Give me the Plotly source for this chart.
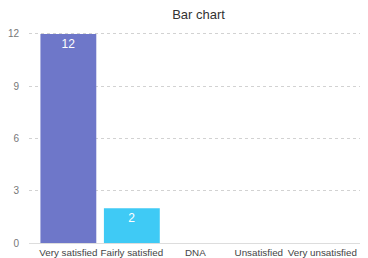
import plotly.graph_objects as go

categories = ["Very satisfied", "Fairly satisfied", "DNA", "Unsatisfied", "Very unsatisfied"]
values = [12, 2, 0, 0, 0]
bar_colors = ["#6e77c9", "#3fcaf5", "#6e77c9", "#3fcaf5", "#6e77c9"]
y_ticks = [0, 3, 6, 9, 12]

labels = [str(v) if v > 0 else "" for v in values]

fig = go.Figure(go.Bar(
    x=list(range(len(categories))),
    y=values,
    marker=dict(color=bar_colors, line=dict(width=0)),
    text=labels,
    textposition="inside",
    insidetextanchor="end",
    textfont=dict(color="white", size=12, family="Liberation Sans"),
    width=0.88,
    cliponaxis=False,
))

# page has an 8px body margin, so the figure is 8px smaller than the window
fig.update_layout(
    width=360, height=250,
    margin=dict(l=21, r=0, t=23, b=15),
    paper_bgcolor="white", plot_bgcolor="white",
    title=dict(text="Bar chart", x=0.5, xanchor="center", xref="paper",
               y=0.975, yref="container", yanchor="middle",
               font=dict(size=13, color="#333", family="Liberation Sans")),
    showlegend=False,
    font=dict(family="Liberation Sans"),
)
fig.update_xaxes(
    range=[-0.62, 4.72],
    tickmode="array", tickvals=list(range(len(categories))), ticktext=categories,
    tickfont=dict(size=9.8, color="#444"),
    ticklabeloverflow="allow",
    showgrid=False, zeroline=False,
    showline=True, linecolor="#ddd", linewidth=1,
    ticks="", ticklen=0, ticklabelstandoff=0,
    automargin=False,
)
fig.update_yaxes(
    range=[0, 12.17],
    tickmode="array", tickvals=y_ticks,
    tickfont=dict(size=10, color="#777"),
    showgrid=True, gridcolor="#d2d2d2", griddash="dot", gridwidth=1,
    zeroline=False, showline=False,
    ticks="", ticklabelstandoff=9,
    automargin=False,
)

fig.write_html("out.html")
